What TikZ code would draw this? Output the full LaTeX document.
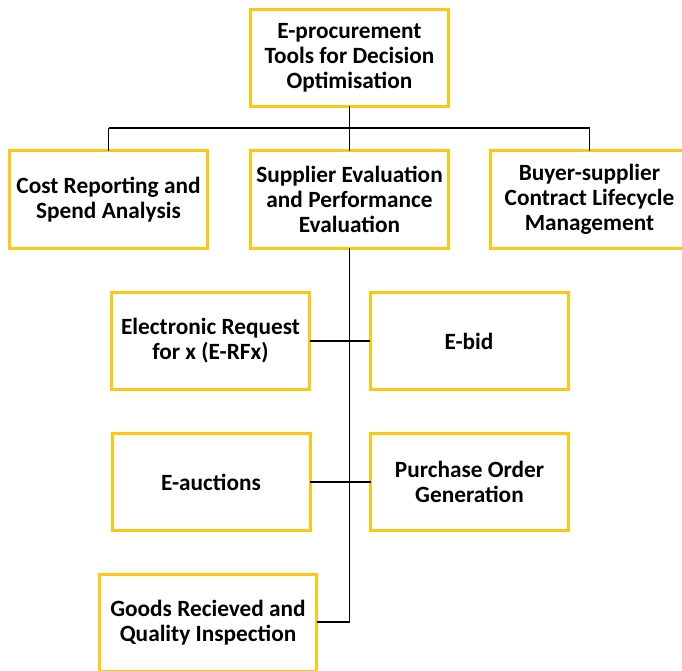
\documentclass[tikz,border=0pt]{standalone}
\usepackage{fontspec}
\setmainfont{Carlito}
\definecolor{boxgold}{RGB}{252,200,20}
\begin{document}
\begin{tikzpicture}[x=1pt,y=1pt,
  box/.style={draw=boxgold, line width=3pt, fill=white, inner sep=0pt, outer sep=0pt,
    minimum width=198pt, minimum height=97pt, align=center,
    font=\fontsize{23.3pt}{25pt}\selectfont\bfseries},
  conn/.style={draw=black, line width=1.4pt}]
\useasboundingbox (0,0) rectangle (682,-671);
\node[box] (top) at (349.5,-58) {E-procurement\\Tools for Decision\\Optimisation};
\node[box] (cost) at (108.5,-199.5) {Cost Reporting and\\Spend Analysis};
\node[box] (supp) at (349.5,-199.5) {Supplier Evaluation\\and Performance\\Evaluation};
\node[box] (buyer) at (589.5,-199.5) {Buyer-supplier\\Contract Lifecycle\\Management};
\node[box] (erfx) at (210.5,-341) {Electronic Request\\for x (E-RFx)};
\node[box] (ebid) at (469,-341) {E-bid};
\node[box] (eauc) at (211,-482) {E-auctions};
\node[box] (po) at (469.5,-482) {Purchase Order\\Generation};
\node[box, minimum width=217pt] (goods) at (208,-623) {Goods Recieved and\\Quality Inspection};
\coordinate (hub) at (349.5,-128);
\coordinate (hl) at (108.5,-128);
\coordinate (hr) at (589.5,-128);
\coordinate (bend) at (349.5,-622);
\draw[conn] (top.south) -- (hub);
\draw[conn] (hl) -- (hr);
\draw[conn] (hl) -- (cost.north);
\draw[conn] (hub) -- (supp.north);
\draw[conn] (hr) -- (buyer.north);
\draw[conn] (supp.south) -- (bend) -- (goods.east |- bend);
\draw[conn] (erfx.east) -- (ebid.west);
\draw[conn] (eauc.east) -- (po.west);
\end{tikzpicture}
\end{document}
